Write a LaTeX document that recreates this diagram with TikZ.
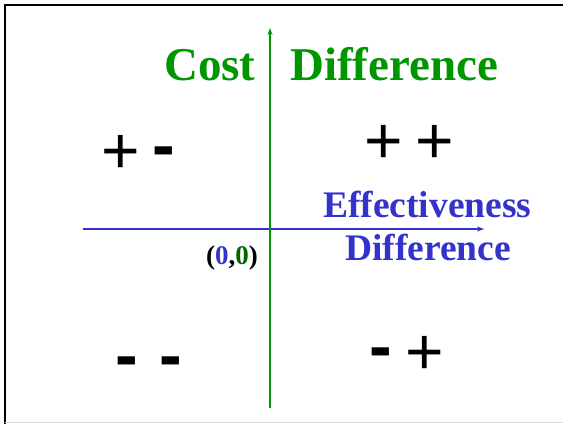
\documentclass[tikz,border=0pt]{standalone}
\usepackage{fontspec}
\setmainfont{Liberation Serif}
\newfontfamily\arialfont{Liberation Sans}
\usetikzlibrary{arrows.meta}
\definecolor{axgreen}{RGB}{0,150,0}
\definecolor{axblue}{RGB}{51,51,204}
\definecolor{darkgr}{RGB}{0,100,0}
\begin{document}
\begin{tikzpicture}[x=1pt,y=-1pt,
  title/.style={inner sep=0,anchor=base west,font=\bfseries\fontsize{47}{50}\selectfont},
  xlabel/.style={inner sep=0,anchor=base west,text=axblue,font=\bfseries\fontsize{37.5}{40}\selectfont},
  plussign/.style={inner sep=0,anchor=base,font=\arialfont\fontsize{66}{66}\selectfont},
  minussign/.style={inner sep=0,anchor=base,font=\arialfont\bfseries\fontsize{68}{68}\selectfont},
  axis/.style={line width=1.6pt,-{Stealth[length=7pt,width=5pt]}}]
\useasboundingbox (0,0) rectangle (563,424);
% frame
\draw[line width=2.5pt,black] (563,5) -- (5,5) -- (5,424);
\draw[line width=1pt,black!15] (5,422.5) -- (563,422.5);
% axes
\coordinate (xs) at (83,229);
\coordinate (xe) at (484,229);
\coordinate (ys) at (270,408);
\coordinate (ye) at (270,28);
\draw[axis,axblue] (xs) -- (xe);
\draw[axis,axgreen] (ys) -- (ye);
% titles
\node[title,text=axgreen] (cost) at (164,80) {Cost};
\node[title,text=axgreen] (diff) at (290,80) {Difference};
\node[xlabel] (eff) at (323,217) {Effectiveness};
\node[xlabel] (diff2) at (345,260) {Difference};
\node[inner sep=0,anchor=base west,font=\bfseries\fontsize{27}{30}\selectfont] (origin) at (206,264) {(\textcolor{axblue}{0},\textcolor{darkgr}{0})};
% signs
\node[plussign] (p1) at (120.5,173.6) {+};
\node[minussign] (m1) at (164,168.5) {-};
\node[plussign] (p2) at (383.5,163.6) {+};
\node[plussign] (p3) at (434.5,163.6) {+};
\node[minussign] (m2) at (126.5,378) {-};
\node[minussign] (m3) at (170.5,378) {-};
\node[minussign] (m4) at (381,369.5) {-};
\node[plussign] (p4) at (425,374.6) {+};
\end{tikzpicture}
\end{document}
